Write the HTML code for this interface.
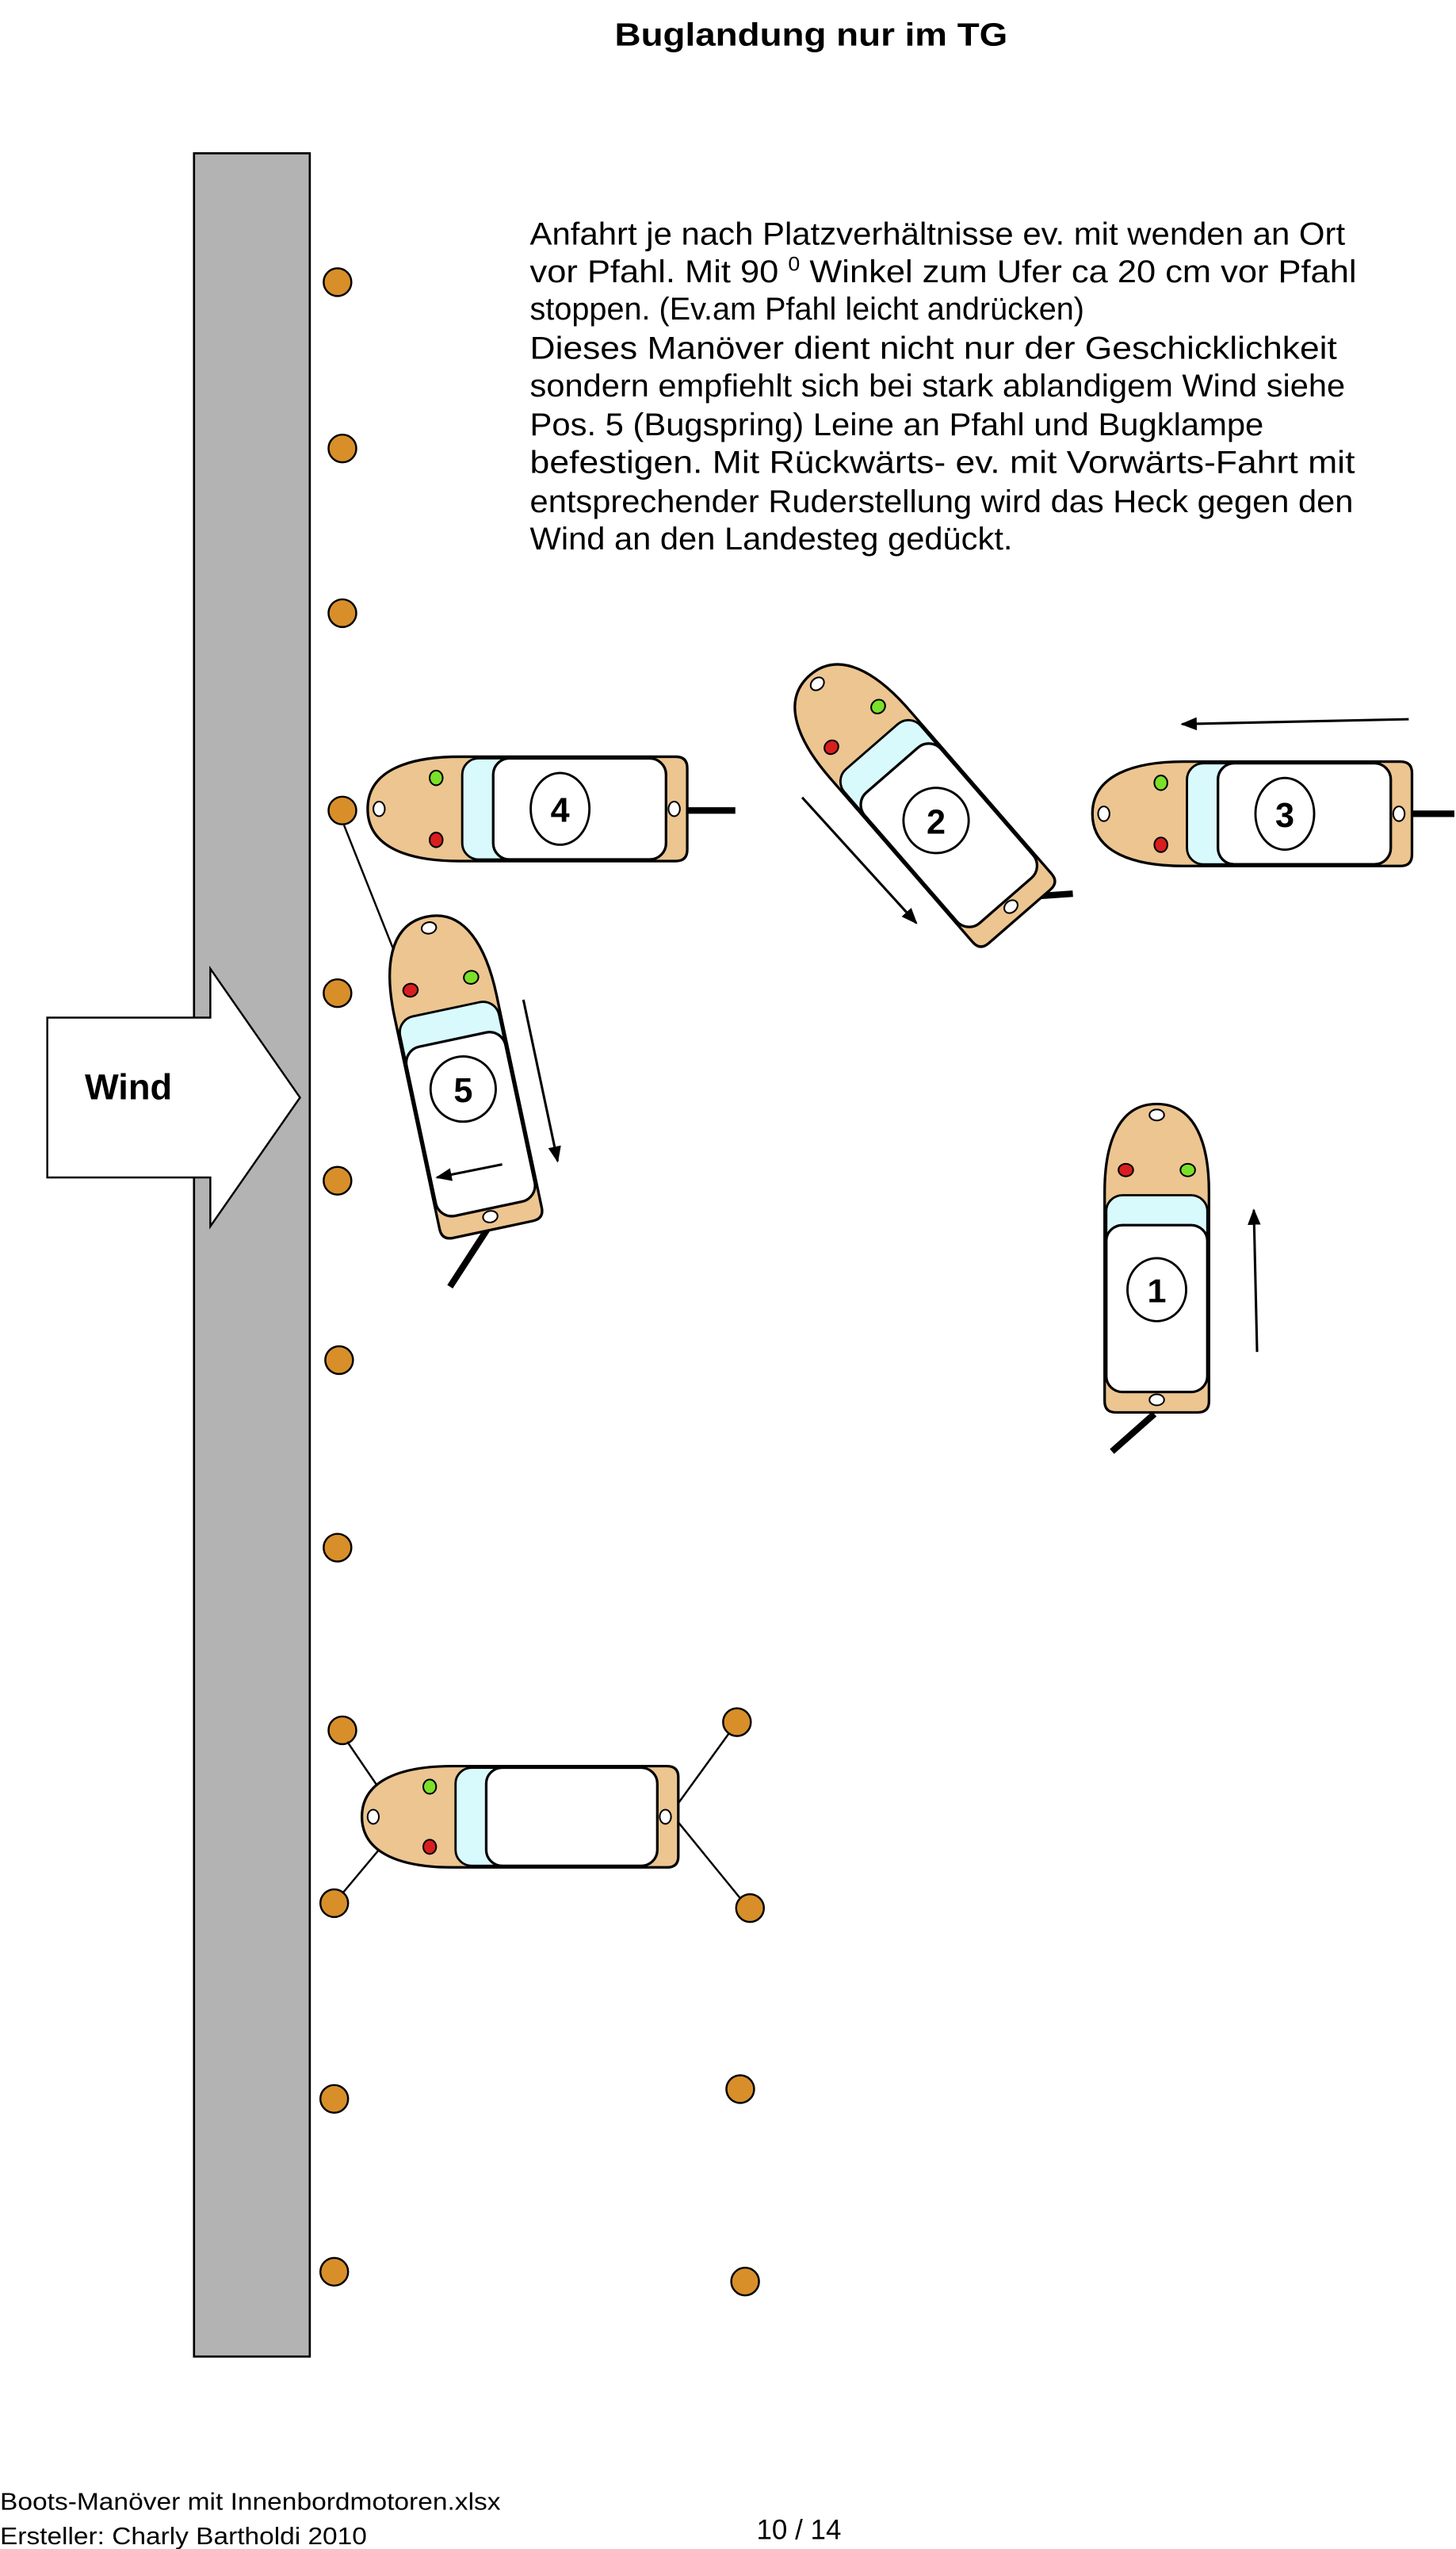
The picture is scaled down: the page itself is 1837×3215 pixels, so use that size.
<!DOCTYPE html>
<html><head><meta charset="utf-8"><style>
html,body{margin:0;padding:0;background:#fff;}
svg{display:block;}
text{font-family:"Liberation Sans",Arial,sans-serif;}
</style></head><body>
<svg width="1837" height="3215" viewBox="0 0 893 1563" preserveAspectRatio="none" xmlns="http://www.w3.org/2000/svg">
<defs>
<marker id="ah" markerWidth="10" markerHeight="8" refX="9" refY="4" orient="auto" markerUnits="userSpaceOnUse"><path d="M0,0 L10,4 L0,8 Z" fill="#000"/></marker>
<g id="boat">
<path d="M-98,0 C-98,-24 -72,-32 -42,-32 L91,-32 Q98,-32 98,-25 L98,25 Q98,32 91,32 L-42,32 C-72,32 -98,24 -98,0 Z" fill="#ecc590" stroke="#000" stroke-width="1.6"/>
<rect x="-40" y="-31" width="115" height="62" rx="10" fill="#d9fafd" stroke="#000" stroke-width="1.4"/>
<rect x="-21" y="-31" width="106" height="62" rx="10" fill="#fff" stroke="#000" stroke-width="1.6"/>
<ellipse cx="-56" cy="-19" rx="4" ry="4.5" fill="#7be02a" stroke="#000" stroke-width="1"/>
<ellipse cx="-56" cy="19" rx="4" ry="4.5" fill="#d81e1e" stroke="#000" stroke-width="1"/>
<ellipse cx="-91" cy="0" rx="3.5" ry="4.5" fill="#fff" stroke="#000" stroke-width="1"/>
<ellipse cx="90" cy="0" rx="3.5" ry="4.5" fill="#fff" stroke="#000" stroke-width="1"/>
</g>
</defs>

<text x="377" y="28" font-size="20" font-weight="bold" textLength="241" lengthAdjust="spacingAndGlyphs">Buglandung nur im TG</text>

<g font-size="19.5">
<text x="325" y="150" textLength="500" lengthAdjust="spacingAndGlyphs">Anfahrt je nach Platzverhältnisse ev. mit wenden an Ort</text>
<text x="325" y="173" textLength="507" lengthAdjust="spacingAndGlyphs">vor Pfahl. Mit 90 <tspan font-size="12" dy="-7">0</tspan><tspan dy="7"> Winkel zum Ufer  ca 20 cm vor Pfahl</tspan></text>
<text x="325" y="196" textLength="340" lengthAdjust="spacingAndGlyphs">stoppen. (Ev.am Pfahl leicht andrücken)</text>
<text x="325" y="220" textLength="495" lengthAdjust="spacingAndGlyphs">Dieses Manöver dient nicht nur der Geschicklichkeit</text>
<text x="325" y="243" textLength="500" lengthAdjust="spacingAndGlyphs">sondern empfiehlt sich bei stark ablandigem Wind siehe</text>
<text x="325" y="267" textLength="450" lengthAdjust="spacingAndGlyphs">Pos. 5 (Bugspring) Leine an Pfahl und Bugklampe</text>
<text x="325" y="290" textLength="506" lengthAdjust="spacingAndGlyphs">befestigen. Mit Rückwärts- ev. mit Vorwärts-Fahrt mit</text>
<text x="325" y="314" textLength="505" lengthAdjust="spacingAndGlyphs">entsprechender Ruderstellung wird das Heck gegen den</text>
<text x="325" y="337" textLength="296" lengthAdjust="spacingAndGlyphs">Wind an den Landesteg gedückt.</text>
</g>

<rect x="119" y="94" width="71" height="1351" fill="#b3b3b3" stroke="#000" stroke-width="1.3"/>

<polygon points="29,624 129,624 129,594 184,673 129,752 129,722 29,722" fill="#fff" stroke="#000" stroke-width="1.2"/>
<text x="52" y="674" font-size="22" font-weight="bold">Wind</text>

<g fill="#d88f2a" stroke="#000" stroke-width="1.2">
<circle cx="207" cy="173" r="8.5"/><circle cx="210" cy="275" r="8.5"/><circle cx="210" cy="376" r="8.5"/>
<circle cx="210" cy="497" r="8.5"/><circle cx="207" cy="609" r="8.5"/><circle cx="207" cy="724" r="8.5"/>
<circle cx="208" cy="834" r="8.5"/><circle cx="207" cy="949" r="8.5"/><circle cx="210" cy="1061" r="8.5"/>
<circle cx="205" cy="1167" r="8.5"/><circle cx="205" cy="1287" r="8.5"/><circle cx="205" cy="1393" r="8.5"/>
<circle cx="452" cy="1056" r="8.5"/><circle cx="460" cy="1170" r="8.5"/><circle cx="454" cy="1281" r="8.5"/>
<circle cx="457" cy="1399" r="8.5"/>
</g>

<g stroke="#000" stroke-width="1.2">
<line x1="211" y1="506" x2="246" y2="594"/>
<line x1="213" y1="1068" x2="245" y2="1115"/>
<line x1="210" y1="1161" x2="246" y2="1118"/>
<line x1="447" y1="1063" x2="410" y2="1114"/>
<line x1="454" y1="1164" x2="410" y2="1110"/>
</g>

<g stroke="#000" stroke-width="4">
<line x1="421" y1="497" x2="451" y2="497"/>
<line x1="866" y1="499" x2="892" y2="499"/>
<line x1="629" y1="550" x2="658" y2="548"/>
<line x1="300" y1="752" x2="276" y2="789"/>
<line x1="708" y1="867" x2="682" y2="890"/>
</g>

<g transform="translate(323.5,496)"><use href="#boat"/><ellipse cx="20" cy="0" rx="18" ry="22" fill="#fff" stroke="#000" stroke-width="1.4"/><text x="20" y="8" font-size="21" font-weight="bold" text-anchor="middle">4</text></g>
<g transform="translate(768,499)"><use href="#boat"/><ellipse cx="20" cy="0" rx="18" ry="22" fill="#fff" stroke="#000" stroke-width="1.4"/><text x="20" y="8" font-size="21" font-weight="bold" text-anchor="middle">3</text></g>
<g transform="translate(561,488) rotate(49)"><use href="#boat"/><ellipse cx="20" cy="0" rx="20" ry="20" fill="#fff" stroke="#000" stroke-width="1.4"/><text x="20" y="8" font-size="21" font-weight="bold" text-anchor="middle" transform="rotate(-49 20 0)">2</text></g>
<g transform="translate(282,658) rotate(78)"><use href="#boat"/><ellipse cx="10" cy="0" rx="20" ry="20" fill="#fff" stroke="#000" stroke-width="1.4"/><text x="10" y="8" font-size="21" font-weight="bold" text-anchor="middle" transform="rotate(-78 10 0)">5</text></g>
<g transform="translate(709.5,771.5) rotate(90) scale(0.965,1)"><use href="#boat"/><ellipse cx="20" cy="0" rx="20" ry="18" fill="#fff" stroke="#000" stroke-width="1.4"/><text x="20" y="8" font-size="21" font-weight="bold" text-anchor="middle" transform="rotate(-90 20 0)">1</text></g>
<g transform="translate(319,1114) scale(0.99,0.97)"><use href="#boat"/></g>

<g stroke="#000" stroke-width="1.5" marker-end="url(#ah)">
<line x1="864" y1="441" x2="725" y2="444"/>
<line x1="492" y1="489" x2="562" y2="566"/>
<line x1="321" y1="613" x2="342" y2="712"/>
<line x1="308" y1="714" x2="268" y2="722"/>
<line x1="771" y1="829" x2="769" y2="742"/>
</g>

<text x="0" y="1539" font-size="15" textLength="307" lengthAdjust="spacingAndGlyphs">Boots-Manöver mit Innenbordmotoren.xlsx</text>
<text x="0" y="1560" font-size="15" textLength="225" lengthAdjust="spacingAndGlyphs">Ersteller: Charly Bartholdi 2010</text>
<text x="464" y="1557" font-size="17">10 / 14</text>
</svg>
</body></html>
